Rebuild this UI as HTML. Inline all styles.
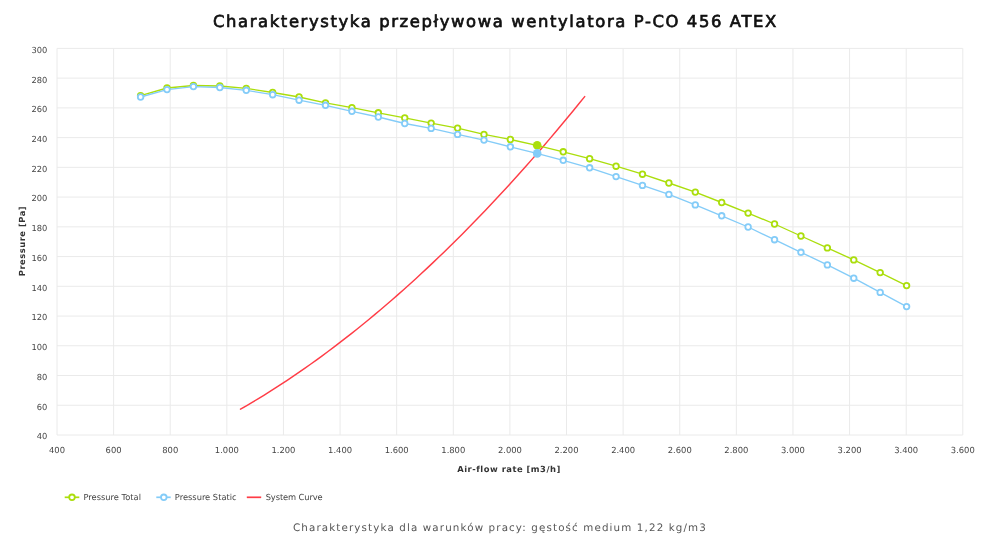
<!DOCTYPE html>
<html><head><meta charset="utf-8"><title>Charakterystyka przepływowa wentylatora P-CO 456 ATEX</title>
<style>
html,body{margin:0;padding:0;background:#fff;}
body{width:1000px;height:541px;overflow:hidden;}
svg{display:block;}
.g{stroke:#eaeaea;stroke-width:1;}
text{font-family:"DejaVu Sans",Verdana,sans-serif;text-rendering:geometricPrecision;}
.yl{font-size:8.3px;fill:#444;text-anchor:end;}
.xl{font-size:8.4px;fill:#444;text-anchor:middle;}
.xt,.yt{font-size:8.4px;font-weight:bold;fill:#333;text-anchor:middle;letter-spacing:0.5px;}
.lg{font-size:8.3px;fill:#444;}
.tt{font-family:"DejaVu Sans",sans-serif;font-size:16.4px;fill:#111;stroke:#111;stroke-width:0.7px;letter-spacing:1.62px;}
.st{font-family:"DejaVu Sans",sans-serif;font-size:10.3px;fill:#555;letter-spacing:1.135px;}
</style></head>
<body><svg width="1000" height="541" viewBox="0 0 1000 541">
<line x1="57.00" y1="48.40" x2="57.00" y2="435.00" class="g"/>
<line x1="113.61" y1="48.40" x2="113.61" y2="435.00" class="g"/>
<line x1="170.22" y1="48.40" x2="170.22" y2="435.00" class="g"/>
<line x1="226.84" y1="48.40" x2="226.84" y2="435.00" class="g"/>
<line x1="283.45" y1="48.40" x2="283.45" y2="435.00" class="g"/>
<line x1="340.06" y1="48.40" x2="340.06" y2="435.00" class="g"/>
<line x1="396.67" y1="48.40" x2="396.67" y2="435.00" class="g"/>
<line x1="453.29" y1="48.40" x2="453.29" y2="435.00" class="g"/>
<line x1="509.90" y1="48.40" x2="509.90" y2="435.00" class="g"/>
<line x1="566.51" y1="48.40" x2="566.51" y2="435.00" class="g"/>
<line x1="623.12" y1="48.40" x2="623.12" y2="435.00" class="g"/>
<line x1="679.74" y1="48.40" x2="679.74" y2="435.00" class="g"/>
<line x1="736.35" y1="48.40" x2="736.35" y2="435.00" class="g"/>
<line x1="792.96" y1="48.40" x2="792.96" y2="435.00" class="g"/>
<line x1="849.57" y1="48.40" x2="849.57" y2="435.00" class="g"/>
<line x1="906.19" y1="48.40" x2="906.19" y2="435.00" class="g"/>
<line x1="962.80" y1="48.40" x2="962.80" y2="435.00" class="g"/>
<line x1="57.00" y1="435.00" x2="962.80" y2="435.00" class="g"/>
<line x1="57.00" y1="405.26" x2="962.80" y2="405.26" class="g"/>
<line x1="57.00" y1="375.52" x2="962.80" y2="375.52" class="g"/>
<line x1="57.00" y1="345.78" x2="962.80" y2="345.78" class="g"/>
<line x1="57.00" y1="316.05" x2="962.80" y2="316.05" class="g"/>
<line x1="57.00" y1="286.31" x2="962.80" y2="286.31" class="g"/>
<line x1="57.00" y1="256.57" x2="962.80" y2="256.57" class="g"/>
<line x1="57.00" y1="226.83" x2="962.80" y2="226.83" class="g"/>
<line x1="57.00" y1="197.09" x2="962.80" y2="197.09" class="g"/>
<line x1="57.00" y1="167.35" x2="962.80" y2="167.35" class="g"/>
<line x1="57.00" y1="137.62" x2="962.80" y2="137.62" class="g"/>
<line x1="57.00" y1="107.88" x2="962.80" y2="107.88" class="g"/>
<line x1="57.00" y1="78.14" x2="962.80" y2="78.14" class="g"/>
<line x1="57.00" y1="48.40" x2="962.80" y2="48.40" class="g"/>
<text x="47.3" y="439.40" class="yl">40</text>
<text x="47.3" y="409.66" class="yl">60</text>
<text x="47.3" y="379.92" class="yl">80</text>
<text x="47.3" y="350.18" class="yl">100</text>
<text x="47.3" y="320.45" class="yl">120</text>
<text x="47.3" y="290.71" class="yl">140</text>
<text x="47.3" y="260.97" class="yl">160</text>
<text x="47.3" y="231.23" class="yl">180</text>
<text x="47.3" y="201.49" class="yl">200</text>
<text x="47.3" y="171.75" class="yl">220</text>
<text x="47.3" y="142.02" class="yl">240</text>
<text x="47.3" y="112.28" class="yl">260</text>
<text x="47.3" y="82.54" class="yl">280</text>
<text x="47.3" y="52.80" class="yl">300</text>
<text x="57.00" y="452.9" class="xl">400</text>
<text x="113.61" y="452.9" class="xl">600</text>
<text x="170.22" y="452.9" class="xl">800</text>
<text x="226.84" y="452.9" class="xl">1.000</text>
<text x="283.45" y="452.9" class="xl">1.200</text>
<text x="340.06" y="452.9" class="xl">1.400</text>
<text x="396.67" y="452.9" class="xl">1.600</text>
<text x="453.29" y="452.9" class="xl">1.800</text>
<text x="509.90" y="452.9" class="xl">2.000</text>
<text x="566.51" y="452.9" class="xl">2.200</text>
<text x="623.12" y="452.9" class="xl">2.400</text>
<text x="679.74" y="452.9" class="xl">2.600</text>
<text x="736.35" y="452.9" class="xl">2.800</text>
<text x="792.96" y="452.9" class="xl">3.000</text>
<text x="849.57" y="452.9" class="xl">3.200</text>
<text x="906.19" y="452.9" class="xl">3.400</text>
<text x="962.80" y="452.9" class="xl">3.600</text>
<text x="509" y="472" class="xt">Air-flow rate [m3/h]</text>
<text transform="translate(25.3,241) rotate(-90)" class="yt">Pressure [Pa]</text>
<polyline points="240.50,409.20 246.33,405.82 252.16,402.36 258.00,398.85 263.83,395.26 269.66,391.61 275.50,387.90 281.33,384.11 287.17,380.27 293.00,376.35 298.83,372.37 304.67,368.33 310.50,364.22 316.33,360.04 322.17,355.80 328.00,351.49 333.84,347.11 339.67,342.67 345.50,338.16 351.34,333.59 357.17,328.95 363.01,324.25 368.84,319.48 374.67,314.64 380.51,309.74 386.34,304.77 392.17,299.74 398.01,294.64 403.84,289.47 409.68,284.24 415.51,278.94 421.34,273.58 427.18,268.15 433.01,262.65 438.85,257.09 444.68,251.46 450.51,245.77 456.35,240.01 462.18,234.18 468.01,228.29 473.85,222.33 479.68,216.31 485.52,210.22 491.35,204.07 497.18,197.84 503.02,191.56 508.85,185.20 514.68,178.79 520.52,172.30 526.35,165.75 532.19,159.13 538.02,152.45 543.85,145.70 549.69,138.89 555.52,132.01 561.36,125.06 567.19,118.05 573.02,110.97 578.86,103.83 584.69,96.62" fill="none" stroke="#ff3c46" stroke-width="1.45" stroke-linejoin="round" stroke-linecap="round"/>
<polyline points="140.60,95.70 167.01,88.00 193.43,85.50 219.84,86.00 246.26,88.40 272.67,92.50 299.08,97.00 325.50,102.90 351.91,107.70 378.32,112.80 404.74,117.90 431.15,123.10 457.57,128.10 483.98,134.40 510.39,139.50 536.81,145.30 563.22,151.80 589.63,158.70 616.05,166.20 642.46,174.20 668.88,183.00 695.29,192.10 721.70,202.50 748.12,213.10 774.53,224.00 800.94,236.00 827.36,247.90 853.77,259.90 880.19,272.60 906.60,285.60" fill="none" stroke="#abde0c" stroke-width="1.35" stroke-linejoin="round"/>
<circle cx="140.60" cy="95.70" r="2.8" fill="#fff" stroke="#abde0c" stroke-width="1.8"/>
<circle cx="167.01" cy="88.00" r="2.8" fill="#fff" stroke="#abde0c" stroke-width="1.8"/>
<circle cx="193.43" cy="85.50" r="2.8" fill="#fff" stroke="#abde0c" stroke-width="1.8"/>
<circle cx="219.84" cy="86.00" r="2.8" fill="#fff" stroke="#abde0c" stroke-width="1.8"/>
<circle cx="246.26" cy="88.40" r="2.8" fill="#fff" stroke="#abde0c" stroke-width="1.8"/>
<circle cx="272.67" cy="92.50" r="2.8" fill="#fff" stroke="#abde0c" stroke-width="1.8"/>
<circle cx="299.08" cy="97.00" r="2.8" fill="#fff" stroke="#abde0c" stroke-width="1.8"/>
<circle cx="325.50" cy="102.90" r="2.8" fill="#fff" stroke="#abde0c" stroke-width="1.8"/>
<circle cx="351.91" cy="107.70" r="2.8" fill="#fff" stroke="#abde0c" stroke-width="1.8"/>
<circle cx="378.32" cy="112.80" r="2.8" fill="#fff" stroke="#abde0c" stroke-width="1.8"/>
<circle cx="404.74" cy="117.90" r="2.8" fill="#fff" stroke="#abde0c" stroke-width="1.8"/>
<circle cx="431.15" cy="123.10" r="2.8" fill="#fff" stroke="#abde0c" stroke-width="1.8"/>
<circle cx="457.57" cy="128.10" r="2.8" fill="#fff" stroke="#abde0c" stroke-width="1.8"/>
<circle cx="483.98" cy="134.40" r="2.8" fill="#fff" stroke="#abde0c" stroke-width="1.8"/>
<circle cx="510.39" cy="139.50" r="2.8" fill="#fff" stroke="#abde0c" stroke-width="1.8"/>
<circle cx="563.22" cy="151.80" r="2.8" fill="#fff" stroke="#abde0c" stroke-width="1.8"/>
<circle cx="589.63" cy="158.70" r="2.8" fill="#fff" stroke="#abde0c" stroke-width="1.8"/>
<circle cx="616.05" cy="166.20" r="2.8" fill="#fff" stroke="#abde0c" stroke-width="1.8"/>
<circle cx="642.46" cy="174.20" r="2.8" fill="#fff" stroke="#abde0c" stroke-width="1.8"/>
<circle cx="668.88" cy="183.00" r="2.8" fill="#fff" stroke="#abde0c" stroke-width="1.8"/>
<circle cx="695.29" cy="192.10" r="2.8" fill="#fff" stroke="#abde0c" stroke-width="1.8"/>
<circle cx="721.70" cy="202.50" r="2.8" fill="#fff" stroke="#abde0c" stroke-width="1.8"/>
<circle cx="748.12" cy="213.10" r="2.8" fill="#fff" stroke="#abde0c" stroke-width="1.8"/>
<circle cx="774.53" cy="224.00" r="2.8" fill="#fff" stroke="#abde0c" stroke-width="1.8"/>
<circle cx="800.94" cy="236.00" r="2.8" fill="#fff" stroke="#abde0c" stroke-width="1.8"/>
<circle cx="827.36" cy="247.90" r="2.8" fill="#fff" stroke="#abde0c" stroke-width="1.8"/>
<circle cx="853.77" cy="259.90" r="2.8" fill="#fff" stroke="#abde0c" stroke-width="1.8"/>
<circle cx="880.19" cy="272.60" r="2.8" fill="#fff" stroke="#abde0c" stroke-width="1.8"/>
<circle cx="906.60" cy="285.60" r="2.8" fill="#fff" stroke="#abde0c" stroke-width="1.8"/>
<polyline points="140.60,97.00 167.01,89.60 193.43,86.60 219.84,87.50 246.26,90.30 272.67,94.70 299.08,100.20 325.50,105.30 351.91,111.30 378.32,117.00 404.74,123.50 431.15,128.40 457.57,134.40 483.98,140.10 510.39,146.80 536.81,153.30 563.22,160.30 589.63,167.80 616.05,176.60 642.46,185.40 668.88,194.40 695.29,204.90 721.70,215.80 748.12,227.00 774.53,239.70 800.94,252.30 827.36,264.90 853.77,278.20 880.19,292.40 906.60,306.60" fill="none" stroke="#84ccf8" stroke-width="1.35" stroke-linejoin="round"/>
<circle cx="140.60" cy="97.00" r="2.8" fill="#fff" stroke="#84ccf8" stroke-width="1.8"/>
<circle cx="167.01" cy="89.60" r="2.8" fill="#fff" stroke="#84ccf8" stroke-width="1.8"/>
<circle cx="193.43" cy="86.60" r="2.8" fill="#fff" stroke="#84ccf8" stroke-width="1.8"/>
<circle cx="219.84" cy="87.50" r="2.8" fill="#fff" stroke="#84ccf8" stroke-width="1.8"/>
<circle cx="246.26" cy="90.30" r="2.8" fill="#fff" stroke="#84ccf8" stroke-width="1.8"/>
<circle cx="272.67" cy="94.70" r="2.8" fill="#fff" stroke="#84ccf8" stroke-width="1.8"/>
<circle cx="299.08" cy="100.20" r="2.8" fill="#fff" stroke="#84ccf8" stroke-width="1.8"/>
<circle cx="325.50" cy="105.30" r="2.8" fill="#fff" stroke="#84ccf8" stroke-width="1.8"/>
<circle cx="351.91" cy="111.30" r="2.8" fill="#fff" stroke="#84ccf8" stroke-width="1.8"/>
<circle cx="378.32" cy="117.00" r="2.8" fill="#fff" stroke="#84ccf8" stroke-width="1.8"/>
<circle cx="404.74" cy="123.50" r="2.8" fill="#fff" stroke="#84ccf8" stroke-width="1.8"/>
<circle cx="431.15" cy="128.40" r="2.8" fill="#fff" stroke="#84ccf8" stroke-width="1.8"/>
<circle cx="457.57" cy="134.40" r="2.8" fill="#fff" stroke="#84ccf8" stroke-width="1.8"/>
<circle cx="483.98" cy="140.10" r="2.8" fill="#fff" stroke="#84ccf8" stroke-width="1.8"/>
<circle cx="510.39" cy="146.80" r="2.8" fill="#fff" stroke="#84ccf8" stroke-width="1.8"/>
<circle cx="563.22" cy="160.30" r="2.8" fill="#fff" stroke="#84ccf8" stroke-width="1.8"/>
<circle cx="589.63" cy="167.80" r="2.8" fill="#fff" stroke="#84ccf8" stroke-width="1.8"/>
<circle cx="616.05" cy="176.60" r="2.8" fill="#fff" stroke="#84ccf8" stroke-width="1.8"/>
<circle cx="642.46" cy="185.40" r="2.8" fill="#fff" stroke="#84ccf8" stroke-width="1.8"/>
<circle cx="668.88" cy="194.40" r="2.8" fill="#fff" stroke="#84ccf8" stroke-width="1.8"/>
<circle cx="695.29" cy="204.90" r="2.8" fill="#fff" stroke="#84ccf8" stroke-width="1.8"/>
<circle cx="721.70" cy="215.80" r="2.8" fill="#fff" stroke="#84ccf8" stroke-width="1.8"/>
<circle cx="748.12" cy="227.00" r="2.8" fill="#fff" stroke="#84ccf8" stroke-width="1.8"/>
<circle cx="774.53" cy="239.70" r="2.8" fill="#fff" stroke="#84ccf8" stroke-width="1.8"/>
<circle cx="800.94" cy="252.30" r="2.8" fill="#fff" stroke="#84ccf8" stroke-width="1.8"/>
<circle cx="827.36" cy="264.90" r="2.8" fill="#fff" stroke="#84ccf8" stroke-width="1.8"/>
<circle cx="853.77" cy="278.20" r="2.8" fill="#fff" stroke="#84ccf8" stroke-width="1.8"/>
<circle cx="880.19" cy="292.40" r="2.8" fill="#fff" stroke="#84ccf8" stroke-width="1.8"/>
<circle cx="906.60" cy="306.60" r="2.8" fill="#fff" stroke="#84ccf8" stroke-width="1.8"/>
<circle cx="537.2" cy="145.3" r="4.3" fill="#abde0c"/>
<circle cx="537.2" cy="153.4" r="4.3" fill="#84ccf8"/>
<line x1="64.7" y1="497.3" x2="79.3" y2="497.3" stroke="#abde0c" stroke-width="1.7"/>
<circle cx="72" cy="497.3" r="2.8" fill="#fff" stroke="#abde0c" stroke-width="1.8"/>
<text x="83.5" y="500.3" class="lg">Pressure Total</text>
<line x1="156.3" y1="497.3" x2="170.7" y2="497.3" stroke="#84ccf8" stroke-width="1.7"/>
<circle cx="163.8" cy="497.3" r="2.8" fill="#fff" stroke="#84ccf8" stroke-width="1.8"/>
<text x="174.8" y="500.3" class="lg">Pressure Static</text>
<line x1="246.8" y1="497.3" x2="261.2" y2="497.3" stroke="#ff3c46" stroke-width="1.7"/>
<text x="265.7" y="500.3" class="lg" style="letter-spacing:-0.1px">System Curve</text>
<text x="213" y="26.7" class="tt">Charakterystyka przepływowa wentylatora P-CO 456 ATEX</text>
<text x="293" y="530.6" class="st">Charakterystyka dla warunków pracy: gęstość medium 1,22 kg/m3</text>
</svg></body></html>
